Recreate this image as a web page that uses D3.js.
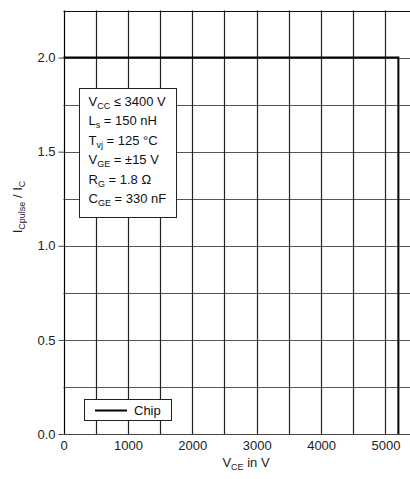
<!DOCTYPE html>
<html>
<head>
<meta charset="utf-8">
<script src="https://cdn.jsdelivr.net/npm/d3@7"></script>
<style>
  body { margin: 0; background: #fff; }
  svg { display: block; font-family: "Liberation Sans", Arial, sans-serif; }
</style>
</head>
<body>
<div id="chart"></div>
<script>
// data
var xTicks = [0, 1000, 2000, 3000, 4000, 5000];
var yTicks = [0, 0.5, 1.0, 1.5, 2.0];
var xGrid = [500, 1000, 1500, 2000, 2500, 3000, 3500, 4000, 4500, 5000];
var yGrid = [0.25, 0.5, 0.75, 1.0, 1.25, 1.5, 1.75, 2.0, 2.25];
var chipV = [0, 5200, 5200];
var chipI = [2.0, 2.0, 0.0];
var conditions = [
  ["V", "CC", " \u2264 3400 V"],
  ["L", "s", " = 150 nH"],
  ["T", "vj", " = 125 \u00b0C"],
  ["V", "GE", " = \u00b115 V"],
  ["R", "G", " = 1.8 \u03a9"],
  ["C", "GE", " = 330 nF"]
];

var W = 410, H = 479;
var svg = d3.select("#chart").append("svg").attr("width", W).attr("height", H);

var x = d3.scaleLinear().domain([0, 5500]).range([63.5, 417.7]);
var y = d3.scaleLinear().domain([0, 2.25]).range([434, 10.5]);

// grid
svg.append("g").selectAll("line").data(yGrid).enter().append("line")
  .attr("x1", x(0)).attr("x2", W)
  .attr("y1", function(d) { return Math.round(y(d)) + 0.5; })
  .attr("y2", function(d) { return Math.round(y(d)) + 0.5; })
  .attr("stroke", function(d) { return d == 2.25 ? "#111" : "#555"; })
  .attr("stroke-width", 1.2);

svg.append("g").selectAll("line").data(xGrid).enter().append("line")
  .attr("x1", function(d) { return Math.round(x(d)) + 0.5; })
  .attr("x2", function(d) { return Math.round(x(d)) + 0.5; })
  .attr("y1", y(2.25)).attr("y2", y(0))
  .attr("stroke", "#222")
  .attr("stroke-width", 1.2);

// axes lines
svg.append("line").attr("x1", Math.round(x(0)) + 0.5).attr("x2", Math.round(x(0)) + 0.5)
  .attr("y1", y(2.25)).attr("y2", y(0)).attr("stroke", "#000").attr("stroke-width", 1.2);
svg.append("line").attr("x1", x(0)).attr("x2", W)
  .attr("y1", Math.round(y(0)) + 0.5).attr("y2", Math.round(y(0)) + 0.5)
  .attr("stroke", "#444").attr("stroke-width", 1.2);

// y ticks
var yAxis = d3.axisLeft(y).tickValues(yTicks).tickSize(5).tickPadding(3)
  .tickFormat(d3.format(".1f"));
var gy = svg.append("g").attr("transform", "translate(" + x(0) + ",0)").call(yAxis);
gy.select(".domain").remove();
gy.selectAll(".tick line").attr("stroke", "#444");
gy.selectAll("text").attr("font-size", 13).attr("fill", "#222")
  .attr("font-family", "Liberation Sans, Arial, sans-serif");

// x ticks
var xAxis = d3.axisBottom(x).tickValues(xTicks).tickSize(0).tickPadding(7)
  .tickFormat(d3.format("d"));
var gx = svg.append("g").attr("transform", "translate(0," + y(0) + ")").call(xAxis);
gx.select(".domain").remove();
gx.selectAll("text").attr("font-size", 13).attr("fill", "#222")
  .attr("font-family", "Liberation Sans, Arial, sans-serif");

// chip curve
var line = d3.line().x(function(d) { return x(d[0]); }).y(function(d) { return y(d[1]); });
svg.append("path")
  .datum(chipV.map(function(v, i) { return [v, chipI[i]]; }))
  .attr("d", line).attr("fill", "none").attr("stroke", "#000").attr("stroke-width", 2);

// conditions box
var box = svg.append("g");
box.append("rect").attr("x", 79.5).attr("y", 88.5).attr("width", 97).attr("height", 129)
  .attr("fill", "#fff").attr("stroke", "#222").attr("stroke-width", 1);
conditions.forEach(function(c, i) {
  var t = box.append("text").attr("x", 88.5).attr("y", 106 + i * 19.4)
    .attr("font-size", 13).attr("fill", "#111");
  t.append("tspan").text(c[0]);
  t.append("tspan").attr("dy", 3).attr("font-size", 9).text(c[1]);
  t.append("tspan").attr("dy", -3).text(c[2]);
});

// legend
var leg = svg.append("g");
leg.append("rect").attr("x", 84.5).attr("y", 399.5).attr("width", 87).attr("height", 21)
  .attr("fill", "#fff").attr("stroke", "#222").attr("stroke-width", 1);
leg.append("line").attr("x1", 95).attr("x2", 127).attr("y1", 410.5).attr("y2", 410.5)
  .attr("stroke", "#000").attr("stroke-width", 2);
leg.append("text").attr("x", 134).attr("y", 415).attr("font-size", 13).attr("fill", "#111").text("Chip");

// axis titles
var xt = svg.append("text").attr("x", 246).attr("y", 467).attr("text-anchor", "middle")
  .attr("font-size", 13).attr("fill", "#222");
xt.append("tspan").text("V");
xt.append("tspan").attr("dy", 3).attr("font-size", 9).text("CE");
xt.append("tspan").attr("dy", -3).text(" in V");

var yt = svg.append("text").attr("transform", "translate(22,207) rotate(-90)")
  .attr("text-anchor", "middle").attr("font-size", 13).attr("fill", "#222");
yt.append("tspan").text("I");
yt.append("tspan").attr("dy", 3).attr("font-size", 9).text("Cpulse");
yt.append("tspan").attr("dy", -3).text(" / I");
yt.append("tspan").attr("dy", 3).attr("font-size", 9).text("C");
</script>
</body>
</html>
